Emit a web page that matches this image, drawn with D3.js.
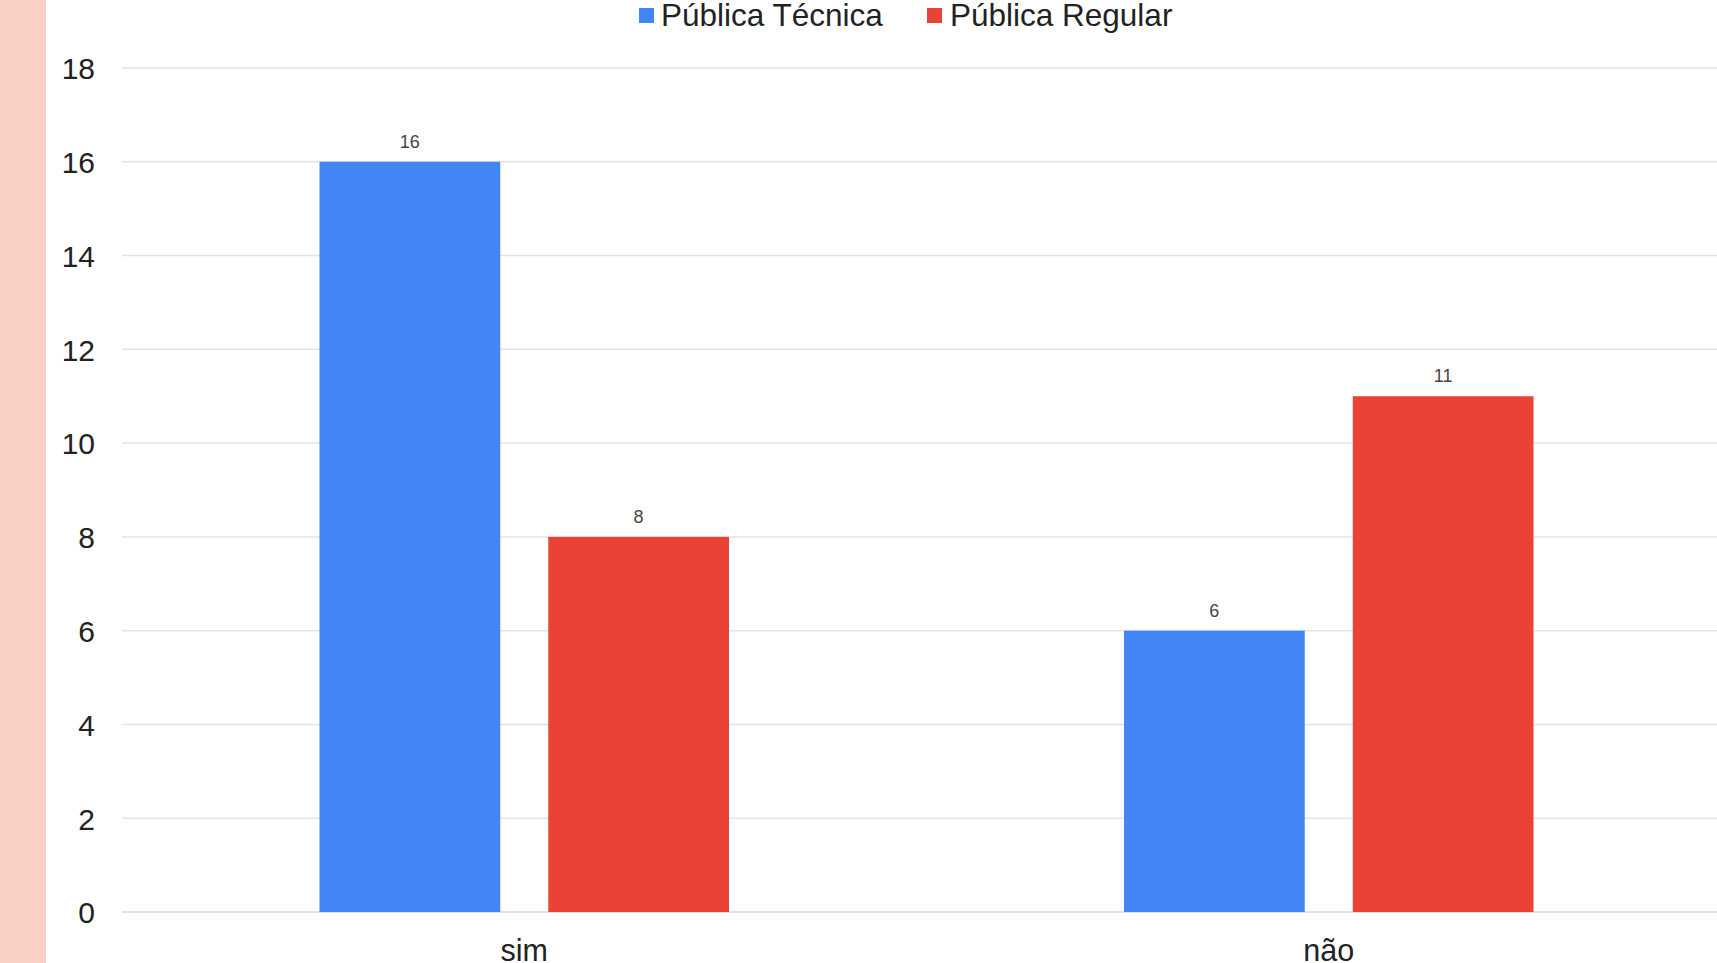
<!DOCTYPE html>
<html>
<head>
<meta charset="utf-8">
<script src="https://cdn.jsdelivr.net/npm/d3@7"></script>
<style>
  html, body { margin: 0; padding: 0; background: #ffffff; overflow: hidden; }
  svg { display: block; font-family: Arial, "Liberation Sans", Helvetica, sans-serif; }
</style>
</head>
<body>
<svg id="chart" width="1717" height="963"></svg>
<script>
// Respostas por tipo de escola
const categories = ["sim", "não"];
const seriesNames = ["Pública Técnica", "Pública Regular"];
const tecnicaValues = [16, 6];
const regularValues = [8, 11];
const yTicks = [0, 2, 4, 6, 8, 10, 12, 14, 16, 18];
const seriesColors = ["#4285f4", "#ea4335"];

const W = 1717, H = 963;
const svg = d3.select("#chart");

// faixa lateral
svg.append("rect").attr("x", 0).attr("y", 0).attr("width", 46).attr("height", H).attr("fill", "#f8d1c4");

const plot = { left: 122, right: 1731, top: 68, bottom: 912 };

const y = d3.scaleLinear().domain([0, 18]).range([plot.bottom, plot.top]);
const x0 = d3.scaleBand().domain(categories).range([plot.left, plot.right]).padding(0);
const groupW = x0.bandwidth() * 0.509;
const x1 = d3.scaleBand().domain(seriesNames).range([0, groupW]).paddingInner(0.21).paddingOuter(0);

// grade
svg.append("g").selectAll("line").data(yTicks).join("line")
  .attr("x1", plot.left).attr("x2", W)
  .attr("y1", d => y(d)).attr("y2", d => y(d))
  .attr("stroke", d => d === 0 ? "#d9d9d9" : "#e3e3e3").attr("stroke-width", 1.5);

// eixo y
const yAxis = d3.axisLeft(y).tickValues(yTicks).tickSize(0).tickPadding(0);
const gy = svg.append("g").attr("transform", "translate(95,0)").call(yAxis);
gy.select(".domain").remove();
gy.selectAll("text").attr("font-size", 30).attr("fill", "#222").attr("font-family", "Arial, 'Liberation Sans', sans-serif").attr("dy", "0.36em");

// barras
const rows = categories.map((c, i) => ({ cat: c, vals: [tecnicaValues[i], regularValues[i]] }));
const groups = svg.append("g").selectAll("g").data(rows).join("g")
  .attr("transform", d => `translate(${x0(d.cat) + (x0.bandwidth() - groupW) / 2},0)`);

groups.selectAll("rect").data(d => d.vals.map((v, j) => ({ v, s: seriesNames[j], j }))).join("rect")
  .attr("x", d => x1(d.s)).attr("width", x1.bandwidth())
  .attr("y", d => y(d.v)).attr("height", d => y(0) - y(d.v))
  .attr("fill", d => seriesColors[d.j]);

groups.selectAll("text").data(d => d.vals.map((v, j) => ({ v, s: seriesNames[j], j }))).join("text")
  .attr("x", d => x1(d.s) + x1.bandwidth() / 2)
  .attr("y", d => y(d.v) - 14)
  .attr("text-anchor", "middle").attr("font-size", 18).attr("fill", "#444")
  .text(d => d.v);

// eixo x
const xAxis = d3.axisBottom(x0).tickSize(0).tickPadding(0);
const gx = svg.append("g").attr("transform", `translate(0,${plot.bottom})`).call(xAxis);
gx.select(".domain").remove();
gx.selectAll("text").attr("font-size", 30.5).attr("fill", "#222").attr("font-family", "Arial, 'Liberation Sans', sans-serif")
  .attr("dy", null).attr("y", 49);

// legenda
const legendItems = [{ name: seriesNames[0], sx: 639, tx: 661 }, { name: seriesNames[1], sx: 927, tx: 950 }];
const lg = svg.append("g");
legendItems.forEach((d, i) => {
  lg.append("rect").attr("x", d.sx).attr("y", 8).attr("width", 15).attr("height", 15).attr("fill", seriesColors[i]);
  lg.append("text").attr("x", d.tx).attr("y", 26).attr("font-size", 31.5).attr("fill", "#222").text(d.name);
});
</script>
</body>
</html>
